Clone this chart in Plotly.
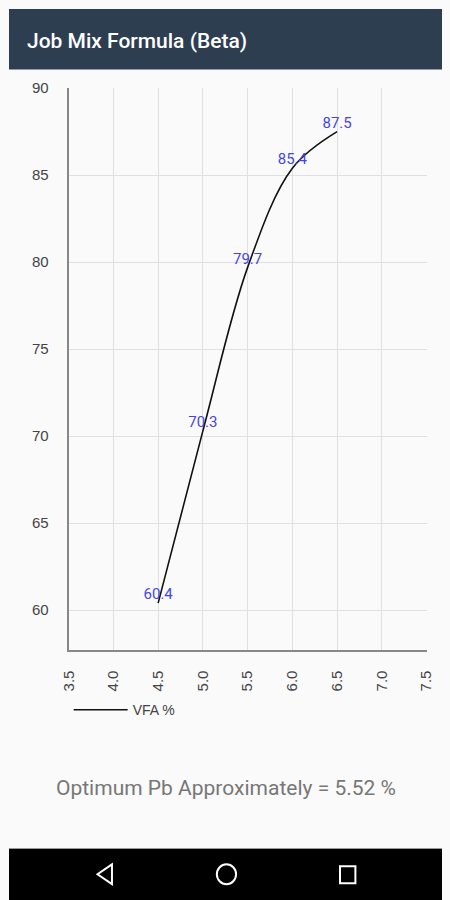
import plotly.graph_objects as go

# Data
pb = [4.5, 5.0, 5.5, 6.0, 6.5]
vfa = [60.4, 70.3, 79.7, 85.4, 87.5]
vfa_labels = ["60.4", "70.3", "79.7", "85.4", "87.5"]
x_ticks = [3.5, 4.0, 4.5, 5.0, 5.5, 6.0, 6.5, 7.0, 7.5]
x_tick_text = ["3.5", "4.0", "4.5", "5.0", "5.5", "6.0", "6.5", "7.0", "7.5"]
y_ticks = [60, 65, 70, 75, 80, 85, 90]
series_name = "VFA %"
title_text = "Job Mix Formula (Beta)"
footer_text = "Optimum Pb Approximately = 5.52 %"

W, H = 450, 900
def fx(X):
    return X / W
def fy(Y):
    return 1 - Y / H

AX_FONT = "Liberation Sans, Arial, sans-serif"

fig = go.Figure()
fig.add_trace(go.Scatter(
    x=pb, y=vfa, mode="lines+text", name=series_name,
    line=dict(color="#111111", width=1.6, shape="spline", smoothing=1.0),
    text=vfa_labels, textposition="top center",
    textfont=dict(color="#4545e4", size=15, family="Roboto"),
    cliponaxis=False,
))

fig.update_layout(
    width=W, height=H,
    margin=dict(l=0, r=0, t=0, b=0),
    paper_bgcolor="#fafafa", plot_bgcolor="#fafafa",
    font=dict(family=AX_FONT, color="#555555", size=14),
    showlegend=True,
    legend=dict(x=fx(62), y=fy(692), xanchor="left", yanchor="top",
                itemwidth=54,
                bgcolor="rgba(0,0,0,0)", font=dict(family=AX_FONT, size=14, color="#444444")),
    xaxis=dict(domain=[fx(62), fx(434)], range=[3.5, 7.5],
               tickvals=x_ticks, ticktext=x_tick_text, tickangle=-90,
               showgrid=True, gridcolor="#e0e0e0", gridwidth=1,
               showline=True, linecolor="#888888", linewidth=2,
               zeroline=False, ticks="", ticklabelstandoff=13,
               tickfont=dict(family=AX_FONT, size=15, color="#444444"), fixedrange=True),
    yaxis=dict(domain=[fy(647), fy(80)], range=[57.73, 90],
               tickvals=y_ticks, showgrid=True, gridcolor="#e0e0e0", gridwidth=1,
               showline=True, linecolor="#888888", linewidth=2,
               zeroline=False, ticks="", ticklabelstandoff=15,
               tickfont=dict(family=AX_FONT, size=15, color="#444444"), fixedrange=True),
)

shapes = [
    # header bar
    dict(type="rect", xref="paper", yref="paper", x0=0, x1=1, y0=fy(61), y1=1,
         fillcolor="#2d3e50", line=dict(width=0), layer="above"),
    # bottom nav bar
    dict(type="rect", xref="paper", yref="paper", x0=0, x1=1, y0=0, y1=fy(848),
         fillcolor="#000000", line=dict(width=0), layer="above"),
    dict(type="line", xref="paper", yref="paper", x0=0, x1=1, y0=fy(848), y1=fy(848),
         line=dict(color="#9a9a9a", width=1), layer="above"),
    # back triangle
    dict(type="path", xref="paper", yref="paper",
         path=f"M {fx(107)} {fy(864)} L {fx(92)} {fy(874)} L {fx(107)} {fy(884)} Z",
         line=dict(color="#ffffff", width=2), layer="above"),
    # home circle
    dict(type="circle", xref="paper", yref="paper",
         x0=fx(216), x1=fx(236), y0=fy(884), y1=fy(864),
         line=dict(color="#ffffff", width=2), layer="above"),
    # recent square
    dict(type="rect", xref="paper", yref="paper",
         x0=fx(344), x1=fx(360), y0=fy(883), y1=fy(866),
         line=dict(color="#ffffff", width=2), layer="above"),
]
fig.update_layout(shapes=shapes)

fig.add_annotation(text=title_text, xref="paper", yref="paper",
                   x=fx(17), y=fy(32), xanchor="left", yanchor="middle",
                   showarrow=False,
                   font=dict(family="Roboto", size=21, color="#ffffff", weight=500))
fig.add_annotation(text=footer_text, xref="paper", yref="paper",
                   x=fx(226), y=fy(787), xanchor="center", yanchor="middle",
                   showarrow=False, font=dict(family="Roboto", size=21, color="#777777"))

fig.write_html("out.html", config={"displayModeBar": False},
               post_script="document.body.style.margin='0';document.body.style.overflow='hidden';")
